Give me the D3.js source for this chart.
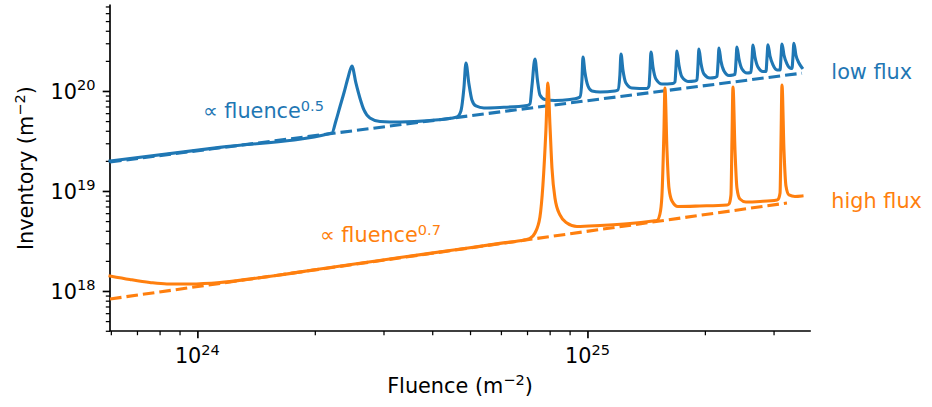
<!DOCTYPE html>
<html><head><meta charset="utf-8">
<script src="https://cdn.jsdelivr.net/npm/d3@7"></script>
<style>
body{margin:0;background:#fff}
svg{display:block}
text{font-family:"DejaVu Sans",sans-serif}
</style>
</head><body>
<svg id="c" width="932" height="407"></svg>
<script>
// ---- data ----
const lowFluxFluence = [5.97e23, 1.142e24, 2.213e24, 2.265e24, 2.319e24, 2.375e24, 2.432e24, 2.490e24, 2.549e24, 2.610e24, 2.673e24, 2.769e24, 2.938e24, 3.305e24, 3.947e24, 4.628e24,
  4.738e24, 4.823e24, 4.881e24, 4.968e24, 5.056e24, 5.178e24, 5.428e24, 5.966e24, 6.998e24,
  7.122e24, 7.206e24, 7.336e24, 7.444e24, 7.554e24, 7.780e24, 8.254e24, 9.020e24, 9.454e24,
  9.57e24, 9.68e24, 9.74e24, 9.85e24, 1.003e25, 1.027e25, 1.077e25, 1.176e25,
  1.197e25, 1.211e25, 1.219e25, 1.233e25, 1.255e25, 1.300e25, 1.421e25,
  1.438e25, 1.446e25, 1.455e25, 1.472e25, 1.498e25, 1.552e25, 1.657e25,
  1.676e25, 1.686e25, 1.696e25, 1.716e25, 1.747e25, 1.810e25, 1.886e25,
  1.909e25, 1.920e25, 1.931e25, 1.954e25, 1.989e25, 2.061e25, 2.123e25,
  2.148e25, 2.161e25, 2.174e25, 2.199e25, 2.239e25, 2.306e25, 2.361e25,
  2.389e25, 2.403e25, 2.417e25, 2.446e25, 2.490e25, 2.564e25, 2.625e25,
  2.641e25, 2.657e25, 2.688e25, 2.736e25, 2.818e25, 2.869e25,
  2.886e25, 2.903e25, 2.938e25, 2.990e25, 3.062e25, 3.117e25,
  3.135e25, 3.153e25, 3.190e25, 3.247e25, 3.325e25, 3.344e25,
  3.364e25, 3.383e25, 3.423e25, 3.485e25, 3.548e25];
const lowFluxInventory = [1.995e19, 2.73e19, 3.802e19, 5.012e19, 6.918e19, 9.550e19, 1.349e20, 1.778e20, 1.202e20, 8.511e19, 6.457e19, 5.370e19, 4.955e19, 4.898e19, 5.070e19, 5.495e19,
  6.310e19, 1.072e20, 1.905e20, 1.175e20, 8.128e19, 7.079e19, 6.761e19, 6.839e19, 7.161e19,
  7.413e19, 1.122e20, 2.089e20, 1.288e20, 9.120e19, 8.222e19, 8.035e19, 8.222e19, 8.511e19,
  8.710e19, 1.288e20, 2.188e20, 1.549e20, 1.122e20, 1.000e20, 9.772e19, 1.000e20,
  1.023e20, 1.445e20, 2.344e20, 1.622e20, 1.202e20, 1.072e20, 1.059e20,
  1.122e20, 1.549e20, 2.455e20, 1.738e20, 1.318e20, 1.175e20, 1.189e20,
  1.230e20, 1.698e20, 2.512e20, 1.820e20, 1.380e20, 1.245e20, 1.259e20,
  1.288e20, 1.778e20, 2.630e20, 1.905e20, 1.479e20, 1.349e20, 1.365e20,
  1.396e20, 1.862e20, 2.692e20, 1.995e20, 1.585e20, 1.429e20, 1.445e20,
  1.462e20, 1.950e20, 2.754e20, 2.089e20, 1.660e20, 1.514e20, 1.531e20,
  2.042e20, 2.884e20, 2.188e20, 1.738e20, 1.567e20, 1.567e20,
  2.138e20, 2.904e20, 2.239e20, 1.820e20, 1.622e20, 1.622e20,
  2.188e20, 2.951e20, 2.291e20, 1.862e20, 1.679e20, 1.679e20,
  2.188e20, 2.999e20, 2.291e20, 1.905e20, 1.710e20];

const highFluxFluence = [5.97e23, 6.71e23, 7.55e23, 8.35e23, 9.57e23, 1.142e24, 1.363e24, 1.627e24, 2.061e24, 2.610e24, 3.305e24, 4.440e24, 5.966e24, 6.915e24,
  7.122e24, 7.336e24, 7.554e24, 7.689e24, 7.826e24, 7.918e24, 8.014e24, 8.110e24, 8.254e24, 8.501e24, 8.859e24, 9.399e24, 1.077e25, 1.285e25, 1.472e25,
  1.507e25, 1.534e25, 1.552e25, 1.571e25, 1.580e25, 1.599e25, 1.618e25, 1.647e25, 1.706e25, 1.942e25, 2.279e25,
  2.306e25, 2.333e25, 2.347e25, 2.361e25, 2.389e25, 2.417e25, 2.460e25, 2.549e25, 2.769e25, 3.062e25,
  3.080e25, 3.117e25, 3.135e25, 3.153e25, 3.190e25, 3.228e25, 3.286e25, 3.404e25, 3.548e25];
const highFluxInventory = [1.413e18, 1.303e18, 1.216e18, 1.175e18, 1.175e18, 1.216e18, 1.318e18, 1.445e18, 1.660e18, 1.892e18, 2.158e18, 2.541e18, 2.992e18, 3.251e18,
  3.350e18, 3.802e18, 5.495e18, 1.148e19, 4.074e19, 1.202e20, 4.571e19, 1.698e19, 8.511e18, 5.754e18, 4.786e18, 4.416e18, 4.519e18, 4.732e18, 5.012e18,
  5.070e18, 5.888e18, 8.913e18, 4.074e19, 1.072e20, 2.570e19, 1.072e19, 7.943e18, 6.998e18, 7.079e18, 7.244e18,
  7.413e18, 9.120e18, 3.236e19, 1.096e20, 2.570e19, 1.072e19, 8.318e18, 7.762e18, 7.852e18, 8.128e18,
  8.222e18, 9.550e18, 3.236e19, 1.148e20, 2.570e19, 1.122e19, 9.120e18, 8.810e18, 8.913e18];

const lowFitFluence = [5.97e23, 3.548e25];
const lowFitInventory = [1.95e19, 1.507e20];
const highFitFluence = [5.97e23, 3.247e25];
const highFitInventory = [8.318e17, 7.586e18];

const xDomain = [5.97e23, 3.72e25];
const yDomain = [3.98e17, 7.19e20];
const xMajorTicks = [1e24, 1e25];
const xMajorExp = ["24", "25"];
const yMajorTicks = [1e18, 1e19, 1e20];
const yMajorExp = ["18", "19", "20"];

const seriesLabels = ["low flux", "high flux"];
const seriesLabelAt = [[4.22e25, 1.55e20], [4.22e25, 7.94e18]];
const fitExponents = ["0.5", "0.7"];
const fitLabelAt = [[1.033e24, 5.37e19], [2.061e24, 3.09e18]];

// ---- drawing ----
const blue = "#1f77b4", orange = "#ff7f0e";
const fs = 20.8;
const L = 110, R = 810, T = 5.3, B = 331;
const svg = d3.select("#c");
const x = d3.scaleLog().domain(xDomain).range([L, R]);
const y = d3.scaleLog().domain(yDomain).range([B, T]);

const isMajor = v => Math.abs(Math.log10(v) - Math.round(Math.log10(v))) < 1e-9;

// minor ticks
const gxm = svg.append("g").attr("transform", `translate(0,${B})`)
  .call(d3.axisBottom(x).tickValues(x.ticks().filter(v => !isMajor(v))).tickSize(4.2).tickSizeOuter(0).tickFormat(""));
gxm.select(".domain").remove();
gxm.selectAll("line").attr("stroke", "#000").attr("stroke-width", 1.25);
const gxM = svg.append("g").attr("transform", `translate(0,${B})`)
  .call(d3.axisBottom(x).tickValues(xMajorTicks).tickSize(7.3).tickSizeOuter(0).tickFormat(""));
gxM.select(".domain").remove();
gxM.selectAll("line").attr("stroke", "#000").attr("stroke-width", 1.67);

const gym = svg.append("g").attr("transform", `translate(${L},0)`)
  .call(d3.axisLeft(y).tickValues(y.ticks().filter(v => !isMajor(v))).tickSize(4.2).tickSizeOuter(0).tickFormat(""));
gym.select(".domain").remove();
gym.selectAll("line").attr("stroke", "#000").attr("stroke-width", 1.25);
const gyM = svg.append("g").attr("transform", `translate(${L},0)`)
  .call(d3.axisLeft(y).tickValues(yMajorTicks).tickSize(7.3).tickSizeOuter(0).tickFormat(""));
gyM.select(".domain").remove();
gyM.selectAll("line").attr("stroke", "#000").attr("stroke-width", 1.67);

// spines
svg.append("path").attr("d", `M${L},${T}V${B}H${R}`).attr("fill", "none")
  .attr("stroke", "#000").attr("stroke-width", 1.67).attr("stroke-linecap", "square");

// tick labels
function sup(t, base, s, ratio, raise) {
  t.append("tspan").text(base);
  t.append("tspan").attr("dy", -raise).attr("font-size", fs * ratio).text(s);
}
xMajorTicks.forEach((v, i) => {
  const t = svg.append("text").attr("x", x(v)).attr("y", 363).attr("text-anchor", "middle").attr("font-size", fs);
  sup(t, "10", xMajorExp[i], 0.7, 8.5);
});
yMajorTicks.forEach((v, i) => {
  const t = svg.append("text").attr("x", 95.5).attr("y", y(v) + 7.7).attr("text-anchor", "end").attr("font-size", fs);
  sup(t, "10", yMajorExp[i], 0.7, 8.5);
});

// axis labels
function unitLabel(t, base) {
  t.append("tspan").text(base + " (m");
  t.append("tspan").attr("dy", -8).attr("font-size", fs * 0.7).text("\u22122");
  t.append("tspan").attr("dy", 8).text(")");
}
unitLabel(svg.append("text").attr("x", (L + R) / 2).attr("y", 393).attr("text-anchor", "middle").attr("font-size", fs), "Fluence");
unitLabel(svg.append("text").attr("transform", `translate(33,${(T + B) / 2}) rotate(-90)`).attr("text-anchor", "middle").attr("font-size", fs), "Inventory");

// lines
const lineC = d3.line().x(d => x(d[0])).y(d => y(d[1])).curve(d3.curveMonotoneX);
const lineL = d3.line().x(d => x(d[0])).y(d => y(d[1]));
const sw = 3.1;
function drawSeries(fl, inv, fitF, fitI, color) {
  svg.append("path").datum(d3.zip(fl, inv)).attr("d", lineC).attr("fill", "none")
    .attr("stroke", color).attr("stroke-width", sw).attr("stroke-linejoin", "round").attr("stroke-linecap", "square");
  svg.append("path").datum(d3.zip(fitF, fitI)).attr("d", lineL).attr("fill", "none")
    .attr("stroke", color).attr("stroke-width", sw).attr("stroke-dasharray", "11.6,5");
}
drawSeries(lowFluxFluence, lowFluxInventory, lowFitFluence, lowFitInventory, blue);
drawSeries(highFluxFluence, highFluxInventory, highFitFluence, highFitInventory, orange);

// annotations
[blue, orange].forEach((c, i) => {
  svg.append("text").attr("x", x(seriesLabelAt[i][0])).attr("y", y(seriesLabelAt[i][1]))
    .attr("dominant-baseline", "central").attr("font-size", fs).attr("fill", c).text(seriesLabels[i]);
  const t = svg.append("text").attr("x", x(fitLabelAt[i][0])).attr("y", y(fitLabelAt[i][1]))
    .attr("font-size", fs).attr("fill", c);
  t.append("tspan").text("\u221d fluence");
  t.append("tspan").attr("dy", -6.5).attr("font-size", fs * 0.7).text(fitExponents[i]);
});
</script>
</body></html>
